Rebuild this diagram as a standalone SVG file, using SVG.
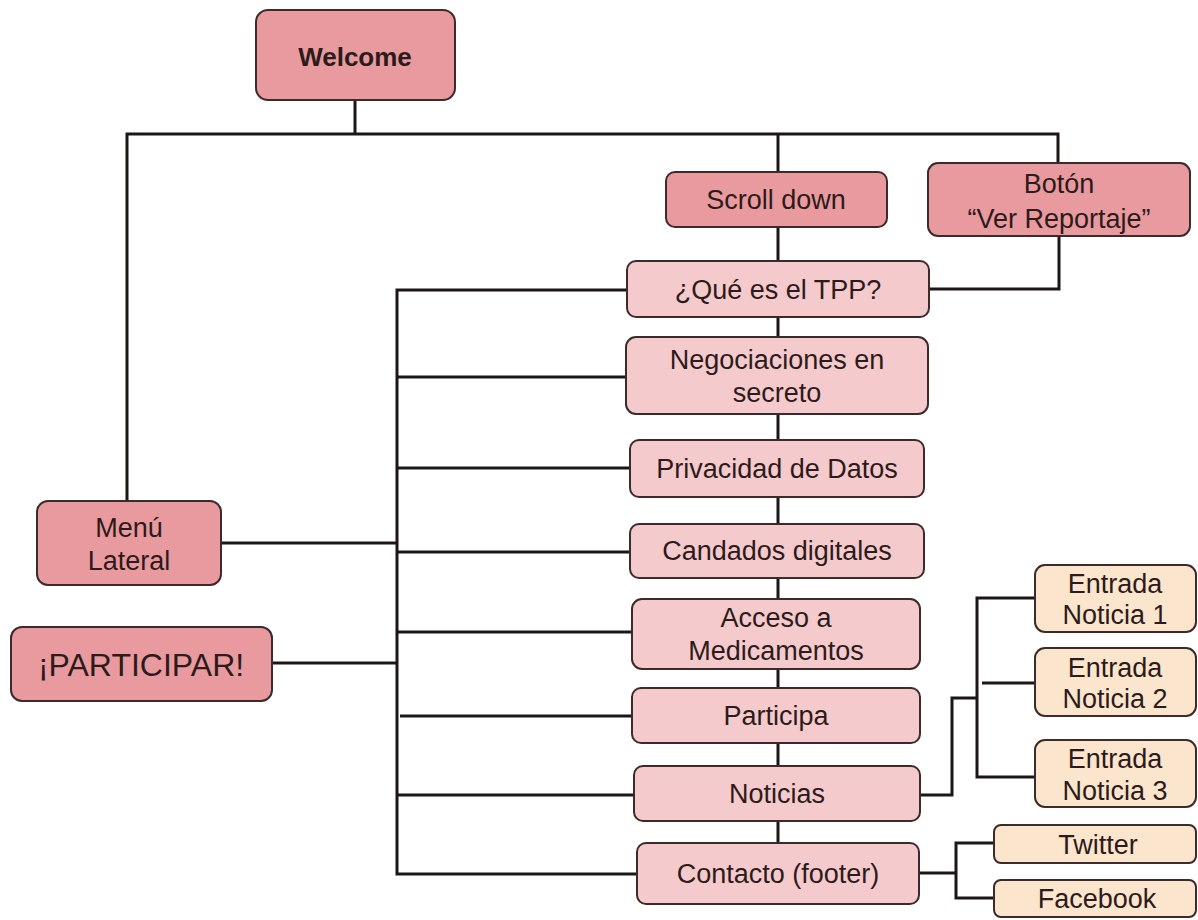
<svg xmlns="http://www.w3.org/2000/svg" width="1198" height="920" viewBox="0 0 1198 920">
<style>
.c{fill:none;stroke:#1c1614;stroke-width:3;stroke-linejoin:miter}
.d{fill:#E99A9E;stroke:#3d2a2a;stroke-width:2}
.l{fill:#F5CACC;stroke:#3d2a2a;stroke-width:2}
.p{fill:#FCE5CD;stroke:#3d2a2a;stroke-width:2}
text{font-family:"Liberation Sans",Arial,sans-serif;font-size:27px;fill:#2d1b1b;text-anchor:middle}
.b{font-weight:bold;font-size:26px}
.big{font-size:32px}
</style>
<rect width="1198" height="920" fill="#ffffff"/>
<g id="connectors">
<path class="c" d="M355,100 V134"/>
<path class="c" d="M127,500 V134 H1058 V163"/>
<path class="c" d="M778,134 V172"/>
<path class="c" d="M1059,236 V289 H929"/>
<path class="c" d="M778,227 V843"/>
<path class="c" d="M627,290 H397 V874 H637"/>
<path class="c" d="M397,377 H626"/>
<path class="c" d="M397,468 H630"/>
<path class="c" d="M397,552 H630"/>
<path class="c" d="M397,632 H632"/>
<path class="c" d="M400,716 H632"/>
<path class="c" d="M397,795 H634"/>
<path class="c" d="M221,543 H397"/>
<path class="c" d="M272,663 H397"/>
<path class="c" d="M920,795 H952 V698 H977"/>
<path class="c" d="M1035,598 H977 V777 H1035"/>
<path class="c" d="M982,683 H1035"/>
<path class="c" d="M919,873 H956"/>
<path class="c" d="M994,843 H956 V898 H994"/>
</g>
<g id="welcome"><rect class="d" x="256" y="10" width="199" height="90" rx="12"/><text class="b" x="355" y="66">Welcome</text></g>
<g id="scroll-down"><rect class="d" x="666" y="172" width="221" height="55" rx="9"/><text x="776" y="209">Scroll down</text></g>
<g id="boton"><rect class="d" x="928" y="163" width="262" height="73" rx="10"/><text x="1059" y="193">Botón</text><text x="1059" y="228">“Ver Reportaje”</text></g>
<g id="menu-lateral"><rect class="d" x="37" y="501" width="184" height="84" rx="11"/><text x="129" y="537">Menú</text><text x="129" y="570">Lateral</text></g>
<g id="participar"><rect class="d" x="11" y="627" width="261" height="74" rx="11"/><text class="big" x="141" y="676">¡PARTICIPAR!</text></g>
<g id="que-es"><rect class="l" x="627" y="261" width="302" height="56" rx="9"/><text x="778" y="299">¿Qué es el TPP?</text></g>
<g id="negociaciones"><rect class="l" x="626" y="337" width="302" height="77" rx="10"/><text x="777" y="369">Negociaciones en</text><text x="777" y="402">secreto</text></g>
<g id="privacidad"><rect class="l" x="630" y="440" width="294" height="57" rx="9"/><text x="777" y="478">Privacidad de Datos</text></g>
<g id="candados"><rect class="l" x="630" y="524" width="294" height="54" rx="9"/><text x="777" y="560">Candados digitales</text></g>
<g id="acceso"><rect class="l" x="632" y="599" width="288" height="70" rx="10"/><text x="776" y="627">Acceso a</text><text x="776" y="660">Medicamentos</text></g>
<g id="participa"><rect class="l" x="632" y="688" width="288" height="55" rx="9"/><text x="776" y="725">Participa</text></g>
<g id="noticias"><rect class="l" x="634" y="766" width="286" height="55" rx="9"/><text x="777" y="803">Noticias</text></g>
<g id="contacto"><rect class="l" x="637" y="843" width="282" height="61" rx="9"/><text x="778" y="883">Contacto (footer)</text></g>
<g id="entrada1"><rect class="p" x="1035" y="565" width="161" height="67" rx="10"/><text x="1115" y="593">Entrada</text><text x="1115" y="624">Noticia 1</text></g>
<g id="entrada2"><rect class="p" x="1035" y="648" width="161" height="68" rx="10"/><text x="1115" y="677">Entrada</text><text x="1115" y="708">Noticia 2</text></g>
<g id="entrada3"><rect class="p" x="1035" y="740" width="161" height="67" rx="10"/><text x="1115" y="768">Entrada</text><text x="1115" y="800">Noticia 3</text></g>
<g id="twitter"><rect class="p" x="994" y="825" width="202" height="38" rx="7"/><text x="1098" y="854">Twitter</text></g>
<g id="facebook"><rect class="p" x="994" y="880" width="202" height="37" rx="7"/><text x="1097" y="908">Facebook</text></g>
</svg>
